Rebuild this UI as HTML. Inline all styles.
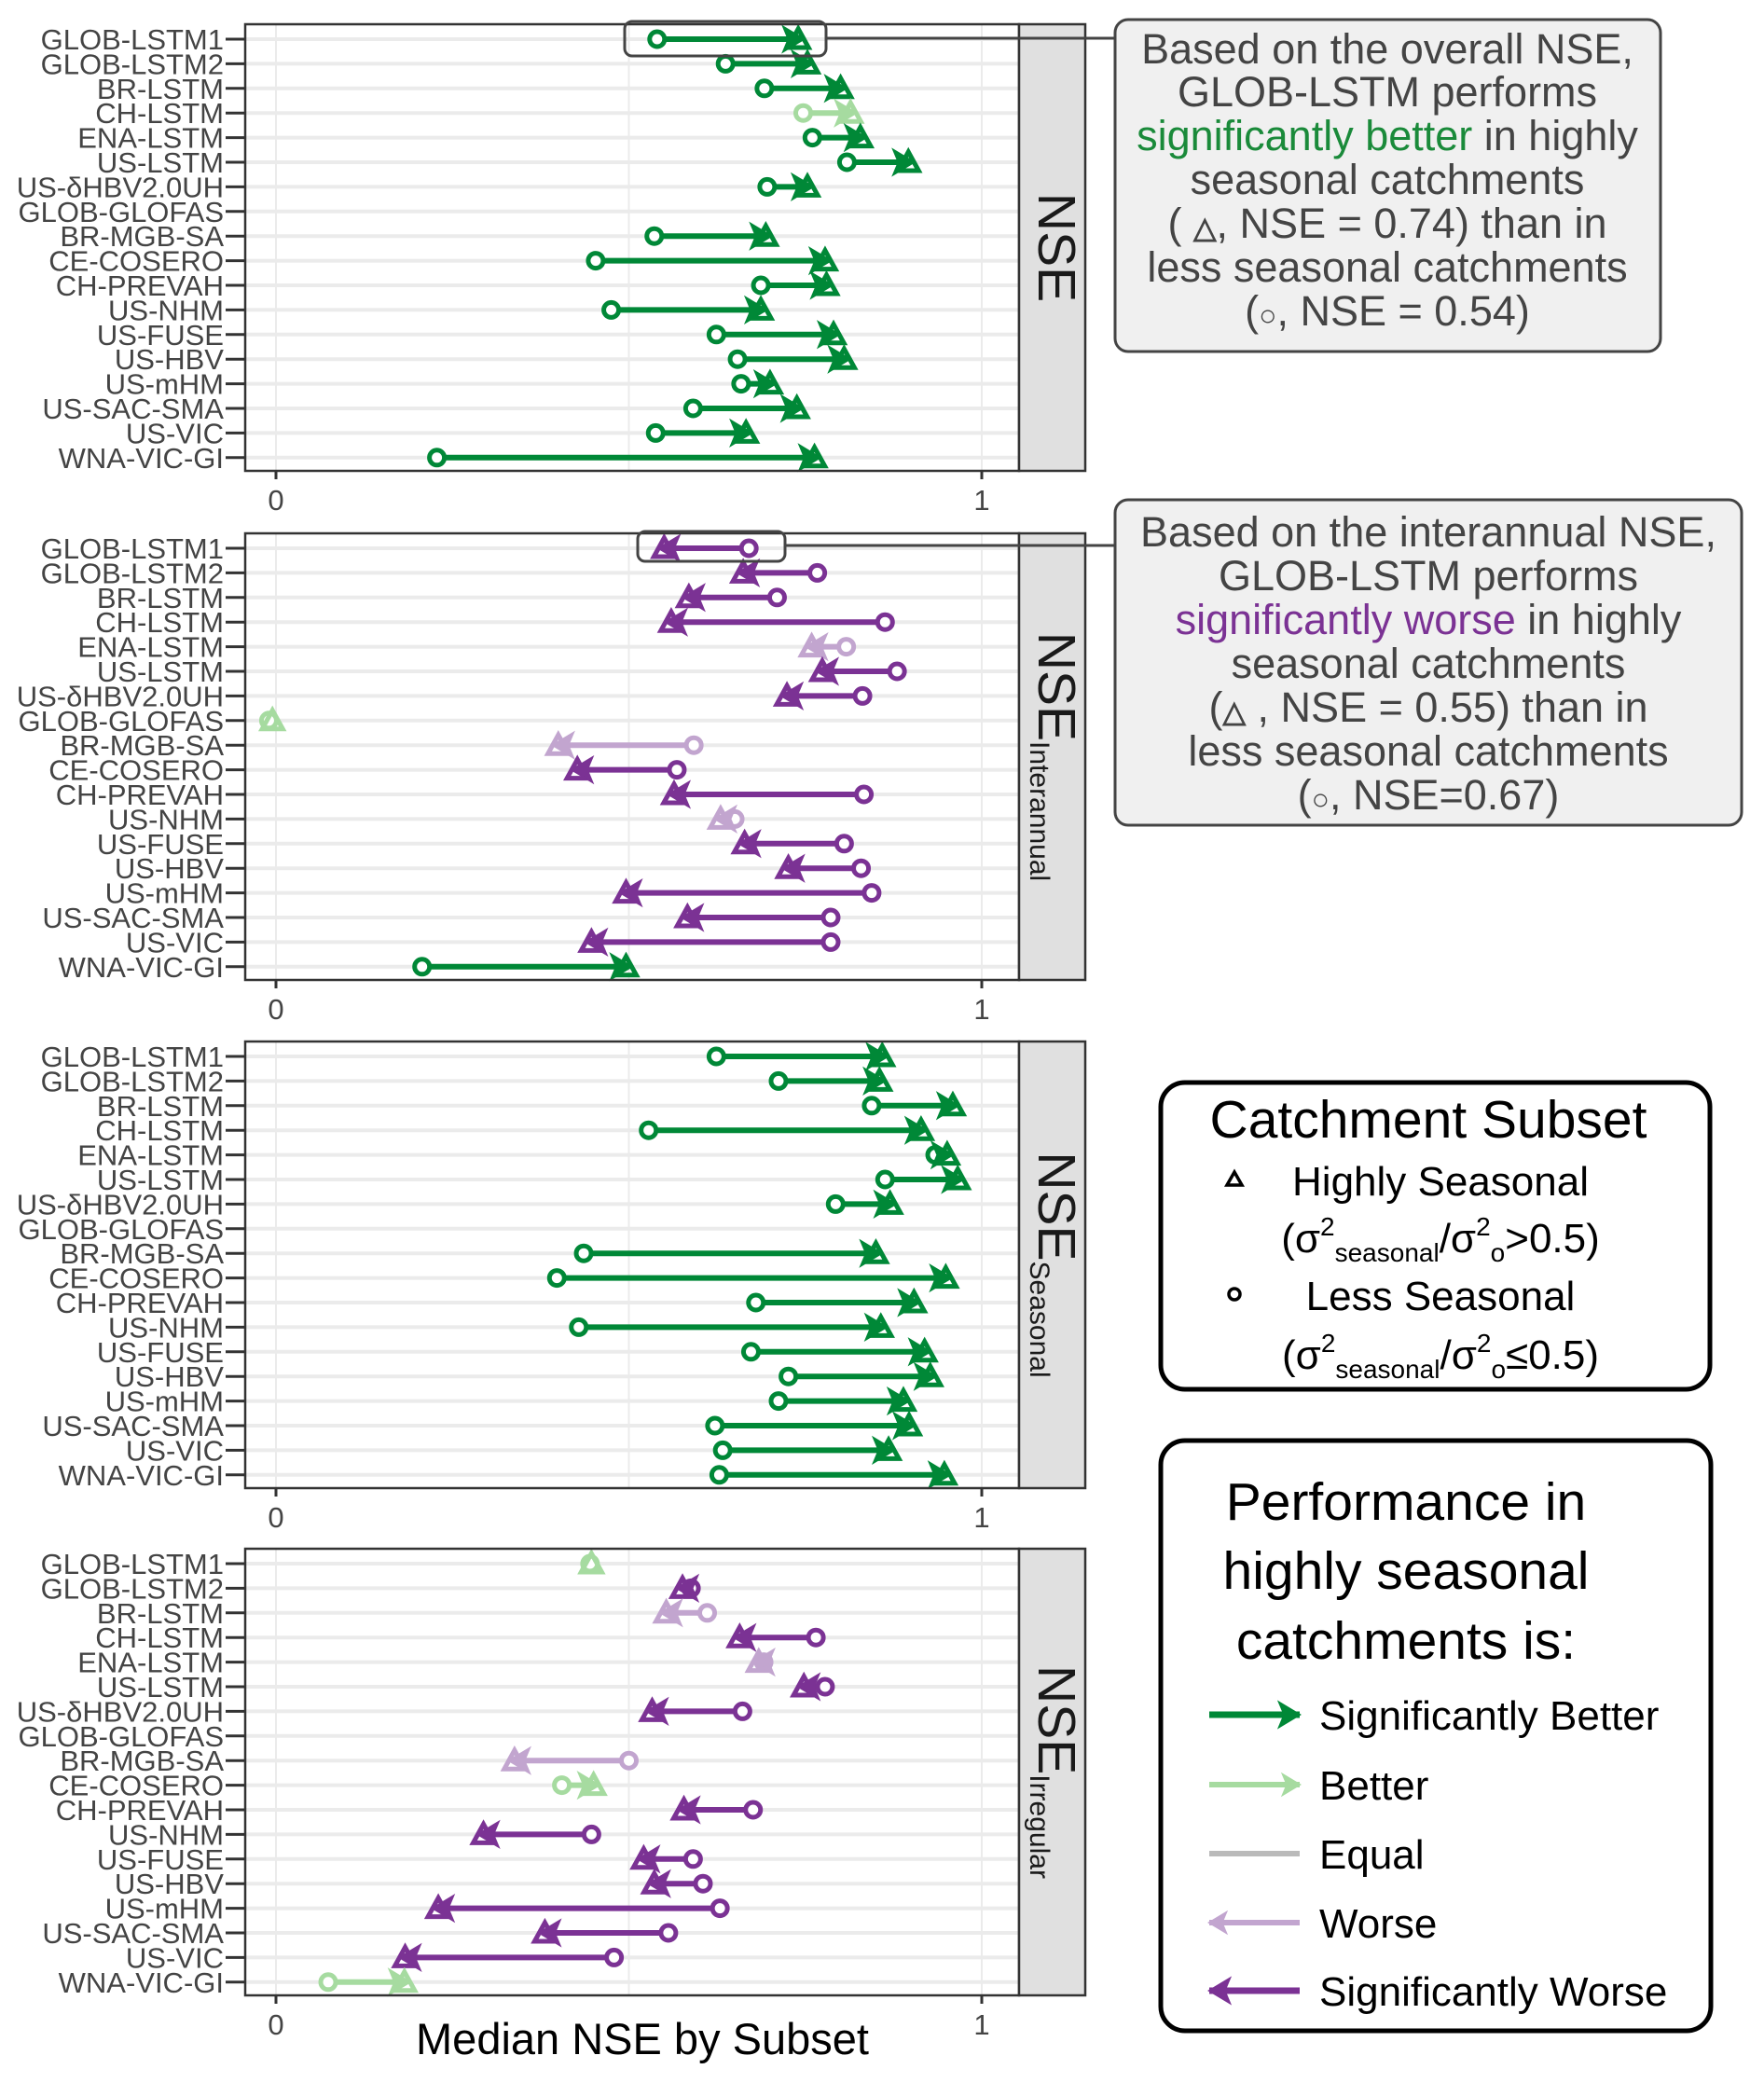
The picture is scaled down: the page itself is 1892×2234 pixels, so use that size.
<!DOCTYPE html>
<html><head><meta charset="utf-8"><style>
html,body{margin:0;padding:0;background:#fff;}
svg{display:block;font-family:"Liberation Sans",sans-serif;}
</style></head><body>
<svg id="chart" width="1892" height="2234" viewBox="0 0 1892 2234" xmlns="http://www.w3.org/2000/svg">
<g id="panels"></g>
<text x="689" y="2203" font-size="47" text-anchor="middle" fill="#000">Median NSE by Subset</text>

<rect x="670" y="23" width="216" height="37" rx="8" fill="none" stroke="#444" stroke-width="3"/>
<line x1="886" y1="41" x2="1195" y2="41" stroke="#444" stroke-width="3"/>
<rect x="684" y="570" width="158" height="32" rx="8" fill="none" stroke="#444" stroke-width="3"/>
<line x1="842" y1="585" x2="1195" y2="585" stroke="#444" stroke-width="3"/>

<g font-size="45" fill="#444" text-anchor="middle">
<rect x="1196" y="21" width="585" height="356" rx="14" fill="#f0f0f0" stroke="#444" stroke-width="3"/>
<text x="1488" y="68">Based on the overall NSE,</text>
<text x="1488" y="114">GLOB-LSTM performs</text>
<text x="1488" y="161"><tspan fill="#1a8a3a">significantly better</tspan> in highly</text>
<text x="1488" y="208">seasonal catchments</text>
<text x="1488" y="255">( <tspan font-size="32" font-weight="bold">△</tspan>, NSE = 0.74) than in</text>
<text x="1488" y="302">less seasonal catchments</text>
<text x="1488" y="349">(<tspan font-size="32" font-weight="bold">○</tspan>, NSE = 0.54)</text>
</g>
<g font-size="45" fill="#444" text-anchor="middle">
<rect x="1196" y="536" width="672" height="349" rx="14" fill="#f0f0f0" stroke="#444" stroke-width="3"/>
<text x="1532" y="586">Based on the interannual NSE,</text>
<text x="1532" y="633">GLOB-LSTM performs</text>
<text x="1532" y="680"><tspan fill="#7b3294">significantly worse</tspan> in highly</text>
<text x="1532" y="727">seasonal catchments</text>
<text x="1532" y="774">(<tspan font-size="32" font-weight="bold">△</tspan> , NSE = 0.55) than in</text>
<text x="1532" y="821">less seasonal catchments</text>
<text x="1532" y="868">(<tspan font-size="32" font-weight="bold">○</tspan>, NSE=0.67)</text>
</g>

<g fill="#000">
<rect x="1245" y="1161" width="589" height="329" rx="26" fill="#fff" stroke="#000" stroke-width="5"/>
<text x="1532" y="1220" font-size="57" text-anchor="middle">Catchment Subset</text>
<path d="M1316,1271 L1324,1257 L1332,1271 Z" fill="none" stroke="#000" stroke-width="3.5"/>
<text x="1545" y="1282" font-size="44" text-anchor="middle">Highly Seasonal</text>
<text x="1545" y="1343" font-size="44" text-anchor="middle">(σ<tspan font-size="28" dy="-18">2</tspan><tspan font-size="28" dy="28">seasonal</tspan><tspan dy="-10">/σ</tspan><tspan font-size="28" dy="-18">2</tspan><tspan font-size="28" dy="28">o</tspan><tspan dy="-10">&gt;0.5)</tspan></text>
<circle cx="1324" cy="1388" r="6" fill="none" stroke="#000" stroke-width="3.5"/>
<text x="1545" y="1405" font-size="44" text-anchor="middle">Less Seasonal</text>
<text x="1545" y="1468" font-size="44" text-anchor="middle">(σ<tspan font-size="28" dy="-18">2</tspan><tspan font-size="28" dy="28">seasonal</tspan><tspan dy="-10">/σ</tspan><tspan font-size="28" dy="-18">2</tspan><tspan font-size="28" dy="28">o</tspan><tspan dy="-10">≤0.5)</tspan></text>
</g>

<g id="legend2" fill="#000">
<rect x="1245" y="1545" width="590" height="633" rx="26" fill="#fff" stroke="#000" stroke-width="5"/>
<text x="1508" y="1630" font-size="57" text-anchor="middle">Performance in</text>
<text x="1508" y="1704" font-size="57" text-anchor="middle">highly seasonal</text>
<text x="1508" y="1779" font-size="57" text-anchor="middle">catchments is:</text>
</g>
</svg>
<script>
const categories = ["GLOB-LSTM1","GLOB-LSTM2","BR-LSTM","CH-LSTM","ENA-LSTM","US-LSTM","US-δHBV2.0UH","GLOB-GLOFAS","BR-MGB-SA","CE-COSERO","CH-PREVAH","US-NHM","US-FUSE","US-HBV","US-mHM","US-SAC-SMA","US-VIC","WNA-VIC-GI"];
const panelNames = ["NSE","NSE_Interannual","NSE_Seasonal","NSE_Irregular"];
const xTicks = [0, 1];
const xTickLabels = ["0","1"];
const nseLess   = [0.54,0.637,0.692,0.747,0.76,0.809,0.696,null,0.536,0.453,0.687,0.475,0.624,0.654,0.659,0.591,0.538,0.228];
const nseHigh   = [0.74,0.753,0.80,0.814,0.828,0.896,0.753,null,0.694,0.778,0.78,0.687,0.79,0.805,0.70,0.738,0.666,0.763];
const nseStatus = ["SB","SB","SB","B","SB","SB","SB",null,"SB","SB","SB","SB","SB","SB","SB","SB","SB","SB"];
const iaLess    = [0.67,0.767,0.71,0.863,0.808,0.88,0.831,-0.01,0.592,0.568,0.833,0.65,0.805,0.829,0.844,0.786,0.786,0.207];
const iaHigh    = [0.55,0.662,0.585,0.56,0.759,0.774,0.724,-0.005,0.40,0.427,0.564,0.63,0.664,0.726,0.496,0.583,0.447,0.496];
const iaStatus  = ["SW","SW","SW","SW","W","SW","SW","B","W","SW","SW","W","SW","SW","SW","SW","SW","SB"];
const seLess    = [0.624,0.712,0.844,0.528,0.934,0.863,0.793,null,0.436,0.398,0.68,0.429,0.673,0.726,0.712,0.622,0.633,0.628];
const seHigh    = [0.859,0.855,0.959,0.914,0.951,0.966,0.87,null,0.85,0.949,0.904,0.857,0.919,0.927,0.889,0.897,0.868,0.947];
const seStatus  = ["SB","SB","SB","SB","SB","SB","SB",null,"SB","SB","SB","SB","SB","SB","SB","SB","SB","SB"];
const irLess    = [0.445,0.588,0.611,0.765,0.691,0.778,0.661,null,0.50,0.405,0.676,0.447,0.591,0.605,0.629,0.556,0.479,0.074];
const irHigh    = [0.447,0.576,0.553,0.657,0.684,0.748,0.533,null,0.338,0.45,0.578,0.294,0.521,0.536,0.23,0.381,0.183,0.182];
const irStatus  = ["B","SW","W","SW","W","SW","SW",null,"W","B","SW","SW","SW","SW","SW","SW","SW","B"];
const legendLabels = ["Significantly Better","Better","Equal","Worse","Significantly Worse"];
const legendKeys = ["SB","B","E","W","SW"];

const colors = {SB:"#008837",B:"#a6dba0",E:"#bababa",W:"#c2a5cf",SW:"#7b3294"};
const NS = "http://www.w3.org/2000/svg";
const panelTops = [26,572,1117,1661];
const PH = 479, PL = 263, PR = 1093, SR = 1164;
function xScale(v){ return 296 + v*(1053-296); }
function yScale(i, top){ return top + 16 + i*26.4; }
function mk(tag, attrs, parent){ const e=document.createElementNS(NS,tag); for(const k in attrs) e.setAttribute(k,attrs[k]); parent.appendChild(e); return e; }

const panelData = [[nseLess,nseHigh,nseStatus],[iaLess,iaHigh,iaStatus],[seLess,seHigh,seStatus],[irLess,irHigh,irStatus]];
const subs = [null,"Interannual","Seasonal","Irregular"];
const root = document.getElementById('panels');

function arrowHead(g, x, y, dir, col, size){
  const L=size, W=size*0.6;
  return mk('path',{d:`M${x},${y} L${x-dir*L},${y-W} L${x-dir*L*0.75},${y} L${x-dir*L},${y+W} Z`, fill:col, stroke:col,'stroke-width':2,'stroke-linejoin':'miter'}, g);
}

panelData.forEach((pd, p) => {
  const top = panelTops[p];
  const g = mk('g',{},root);
  
  
  const bg = mk('rect',{x:PL,y:top,width:PR-PL,height:PH,fill:'#fff'},g);
  
  
  [0,0.5,1].forEach(v=>{
    const gl = mk('line',{x1:xScale(v),x2:xScale(v),y1:top,y2:top+PH,stroke:'#ebebeb','stroke-width':2},g);
    
    
  });
  categories.forEach((c,i)=>{
    const y=yScale(i,top);
    const hl = mk('line',{x1:PL,x2:PR,y1:y,y2:y,stroke:'#ebebeb','stroke-width':4},g);
    
    
    const tk = mk('line',{x1:242,x2:PL,y1:y,y2:y,stroke:'#333','stroke-width':3},g);
    
    
    const t = mk('text',{x:240,y:y+11,'font-size':31,'text-anchor':'end',fill:'#444'},g);
    t.textContent = c;
    
    
  });
  const [less, high, st] = pd;
  categories.forEach((c,i)=>{
    if(less[i]==null || high[i]==null || !st[i]) return;
    const col = colors[st[i]];
    const y=yScale(i,top), xc=xScale(less[i]), xt=xScale(high[i]);
    const mg = mk('g',{},g);
    
    
    const dir = xt>=xc?1:-1;
    if(Math.abs(xt-xc)>4){
      mk('line',{x1:xc,x2:xt-dir*8,y1:y,y2:y,stroke:col,'stroke-width':6},mg);
    }
    mk('circle',{cx:xc,cy:y,r:8,fill:'#fff',stroke:col,'stroke-width':5},mg);
    mk('path',{d:`M${xt-11},${y+9} L${xt},${y-11} L${xt+11},${y+9} Z`,fill:'none',stroke:col,'stroke-width':5,'stroke-linejoin':'miter'},mg);
    if(Math.abs(xt-xc)>4) arrowHead(mg, xt+dir*6, y, dir, col, 22);
  });
  const br = mk('rect',{x:PL,y:top,width:PR-PL,height:PH,fill:'none',stroke:'#333','stroke-width':2.5},g);
  
  
  const strip = mk('rect',{x:PR,y:top,width:SR-PR,height:PH,fill:'#e0e0e0',stroke:'#333','stroke-width':2.5},g);
  
  
  const cy = top+PH/2;
  const st2 = mk('text',{transform:`translate(1114,${cy}) rotate(90)`,'text-anchor':'middle','font-size':57,fill:'#1a1a1a'},g);
  
  
  const t1 = mk('tspan',{},st2); t1.textContent='NSE';
  if(subs[p]){ const t2=mk('tspan',{'font-size':30,dy:9},st2); t2.textContent=subs[p]; }
  xTicks.forEach((v,k)=>{
    const tk = mk('line',{x1:xScale(v),x2:xScale(v),y1:top+PH,y2:top+PH+9,stroke:'#333','stroke-width':3},g);
    
    
    const tl = mk('text',{x:xScale(v),y:top+PH+42,'font-size':31,'text-anchor':'middle',fill:'#444'},g);
    tl.textContent = xTickLabels[k];
    
    
  });
});

const lg = document.getElementById('legend2');
const lgY = [1839,1914,1988,2062,2135];
legendKeys.forEach((k,i)=>{
  const y = lgY[i], col = colors[k];
  const e = mk('g',{},lg);
  
  
  mk('line',{x1:1297,x2:1394,y1:y,y2:y,stroke:col,'stroke-width':k==='SB'||k==='SW'?7:6},e);
  if(k==='SB'||k==='B') arrowHead(e,1394,y,1,col,k==='SB'?22:18);
  if(k==='SW'||k==='W') arrowHead(e,1297,y,-1,col,k==='SW'?22:18);
  const t = mk('text',{x:1415,y:y+16,'font-size':44,fill:'#000'},e);
  t.textContent = legendLabels[i];
});
</script>
</body></html>
